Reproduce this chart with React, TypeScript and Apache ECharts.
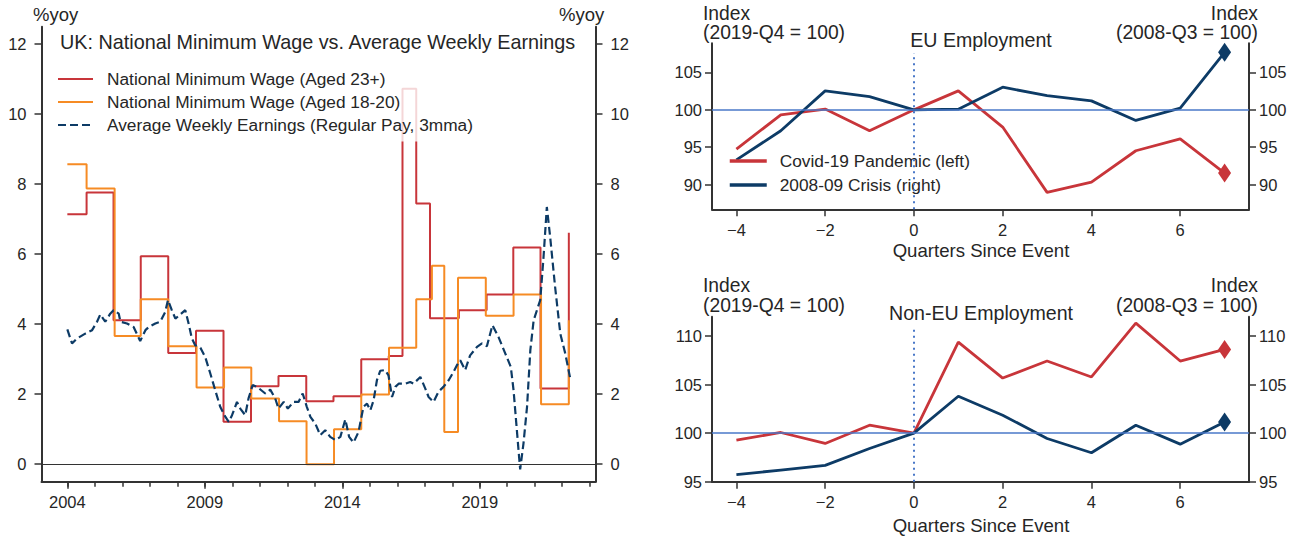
import React, { useEffect, useRef } from 'react';
import * as echarts from 'echarts';

const FONT = "'Liberation Sans', Arial, Helvetica, sans-serif";
const TEXT = '#262626';
const AXIS = '#333333';
const RED = '#C8353A';
const ORANGE = '#F68B24';
const NAVY = '#0D3B66';
const REF = '#4A78C8';

// ---------- Left chart: UK NMW vs AWE (%yoy) ----------
const yearTicks = [2004, 2009, 2014, 2019];
const yearMinorTicks = [2004, 2005, 2006, 2007, 2008, 2009, 2010, 2011, 2012, 2013, 2014, 2015, 2016, 2017, 2018, 2019, 2020, 2021, 2022, 2023];
const pctTicks = [0, 2, 4, 6, 8, 10, 12];

const nmw23Dates = [2004.0, 2004.7, 2005.68, 2006.67, 2007.67, 2008.68, 2009.68, 2010.68, 2011.68, 2012.69, 2013.68, 2014.69, 2015.69, 2016.19, 2016.69, 2017.19, 2018.24, 2019.25, 2020.22, 2021.21, 2022.24];
const nmw23Values = [7.14, 7.76, 4.11, 5.94, 3.18, 3.81, 1.21, 2.23, 2.52, 1.8, 1.94, 3.0, 3.09, 10.73, 7.45, 4.17, 4.4, 4.85, 6.19, 2.16, 6.61];

const nmw1820Dates = [2004.0, 2004.7, 2005.72, 2006.67, 2007.67, 2008.7, 2009.7, 2010.69, 2011.7, 2012.7, 2013.7, 2014.69, 2015.7, 2016.69, 2017.26, 2017.71, 2018.21, 2019.22, 2020.23, 2021.23, 2022.24];
const nmw1820Values = [8.57, 7.88, 3.66, 4.71, 3.37, 2.19, 2.76, 1.88, 1.23, 0.0, 1.0, 1.99, 3.33, 4.71, 5.67, 0.92, 5.33, 4.24, 4.85, 1.71, 4.11];

const aweDates = [
  2004.0, 2004.17, 2004.35, 2004.65, 2004.9, 2005.08, 2005.2, 2005.38, 2005.56, 2005.68, 2005.87, 2005.93,
  2006.17, 2006.41, 2006.65, 2006.84, 2006.96, 2007.2, 2007.38, 2007.56, 2007.66, 2007.8, 2007.93,
  2008.08, 2008.29, 2008.41, 2008.53, 2008.65, 2008.84, 2009.02, 2009.2, 2009.38, 2009.56, 2009.75, 2009.87, 2009.99,
  2010.17, 2010.29, 2010.47, 2010.59, 2010.74, 2010.9, 2011.2, 2011.38, 2011.56, 2011.68, 2011.87,
  2012.02, 2012.23, 2012.41, 2012.56, 2012.71, 2012.84, 2013.02, 2013.2, 2013.38, 2013.56, 2013.75, 2013.93,
  2014.11, 2014.25, 2014.41, 2014.59, 2014.77, 2014.9, 2015.02, 2015.14, 2015.26, 2015.38, 2015.56, 2015.68, 2015.75, 2015.81, 2015.93,
  2016.05, 2016.29, 2016.47, 2016.59, 2016.84, 2017.02, 2017.14, 2017.32, 2017.5, 2017.68, 2017.87,
  2018.05, 2018.17, 2018.29, 2018.47, 2018.65, 2018.9, 2019.08, 2019.26, 2019.46, 2019.68, 2019.93,
  2020.13, 2020.23, 2020.33, 2020.41, 2020.47, 2020.59, 2020.72, 2020.84, 2020.96, 2021.08, 2021.2, 2021.32, 2021.44, 2021.56, 2021.74, 2021.93,
  2022.11, 2022.29,
];
const aweValues = [
  3.85, 3.45, 3.59, 3.73, 3.83, 4.07, 4.28, 4.07, 4.3, 4.4, 4.3, 4.07,
  4.02, 3.92, 3.52, 3.83, 3.92, 4.02, 4.07, 4.35, 4.69, 4.4, 4.16,
  4.26, 4.4, 4.02, 3.59, 3.4, 3.33, 3.05, 2.59, 2.11, 1.64, 1.35, 1.21, 1.4,
  1.78, 1.59, 1.4, 1.88, 2.26, 2.21, 2.02, 2.13, 1.88, 1.59, 1.78,
  1.59, 1.78, 1.78, 2.02, 1.64, 1.35, 1.16, 0.83, 0.97, 0.78, 0.69, 0.78,
  1.28, 0.78, 0.62, 0.92, 1.64, 1.73, 1.54, 1.83, 2.4, 2.67, 2.69, 2.54, 2.21, 1.92, 2.21,
  2.3, 2.3, 2.35, 2.3, 2.49, 2.16, 1.92, 1.78, 2.07, 2.21, 2.4,
  2.64, 2.83, 2.97, 2.69, 3.11, 3.35, 3.45, 3.37, 3.97, 3.64, 3.16,
  2.78, 2.11, 1.16, 0.4, -0.15, 0.59, 1.64, 3.26, 4.11, 4.4, 4.69, 5.92, 7.35, 6.5, 5.07, 3.73,
  3.16, 2.45,
];

// ---------- Right charts: employment indices ----------
const quarters = [-4, -3, -2, -1, 0, 1, 2, 3, 4, 5, 6, 7];
const quarterTicks = [-4, -2, 0, 2, 4, 6];
const euCovid = [94.75, 99.33, 100.1, 97.2, 100.0, 102.54, 97.7, 88.96, 90.34, 94.53, 96.13, 91.54];
const euCrisis = [93.32, 97.2, 102.54, 101.78, 100.0, 100.09, 103.03, 101.91, 101.2, 98.58, 100.22, 107.7];
const nonEuCovid = [99.28, 100.07, 98.94, 100.82, 100.0, 109.38, 105.68, 107.43, 105.79, 111.34, 107.43, 108.63];
const nonEuCrisis = [95.72, 96.2, 96.68, 98.42, 100.0, 103.8, 101.85, 99.45, 97.98, 100.82, 98.87, 101.16];
const euTicks = [90, 95, 100, 105];
const nonEuTicks = [95, 100, 105, 110];

const LEG_NMW23 = 'National Minimum Wage (Aged 23+)';
const LEG_NMW1820 = 'National Minimum Wage (Aged 18-20)';
const LEG_AWE = 'Average Weekly Earnings (Regular Pay, 3mma)';
const LEG_COVID = 'Covid-19 Pandemic (left)';
const LEG_CRISIS = '2008-09 Crisis (right)';

const zip = (xs: number[], ys: number[]) => xs.map((x, i) => [x, ys[i]]);
const minusFmt = (v: number) => (v < 0 ? '\u2212' + Math.abs(v) : String(v));

function xAx(gridIndex: number, min: number, max: number, ticks: number[], opts: any = {}) {
  return {
    type: 'value', gridIndex, min, max, position: 'bottom',
    splitLine: { show: false },
    axisLine: { show: true, onZero: false, lineStyle: { color: AXIS, width: 2 } },
    axisTick: { show: true, customValues: ticks, length: 7, lineStyle: { color: AXIS, width: 1.5 } },
    axisLabel: { customValues: ticks, margin: 12, fontSize: 16.5, color: TEXT, fontFamily: FONT, formatter: minusFmt },
    ...opts,
  };
}

function yAx(gridIndex: number, position: string, min: number, max: number, ticks: number[], margin: number) {
  return {
    type: 'value', gridIndex, position, min, max,
    splitLine: { show: false },
    axisLine: { show: true, onZero: false, lineStyle: { color: AXIS, width: 2 } },
    axisTick: { show: true, customValues: ticks, length: 7, lineStyle: { color: AXIS, width: 1.5 } },
    axisLabel: { customValues: ticks, margin, fontSize: 16.5, color: TEXT, fontFamily: FONT },
  };
}

function txt(text: string, x: number, y: number, size: number, align = 'left') {
  return {
    type: 'text', x, y, silent: true,
    style: { text, fontSize: size, fontFamily: FONT, fill: TEXT, align, verticalAlign: 'middle' },
  };
}

const App: React.FC = () => {
  const ref = useRef<HTMLDivElement>(null);
  useEffect(() => {
    if (!ref.current) return;
    const chart = echarts.init(ref.current, undefined, { renderer: 'svg' });
    const refLines = (ymin: number, ytop: number) => ({
      silent: true, symbol: 'none', label: { show: false },
      data: [
        { yAxis: 100, lineStyle: { color: REF, width: 1.5, type: 'solid' } },
        [
          { coord: [0, ymin], lineStyle: { color: REF, width: 2, type: [2, 4] } },
          { coord: [0, ytop] },
        ],
      ],
    });
    const option: any = {
      animation: false,
      backgroundColor: '#ffffff',
      textStyle: { fontFamily: FONT },
      grid: [
        { left: 41.5, top: 26.7, width: 554, height: 455 },
        { left: 712, top: 43.3, width: 537, height: 166 },
        { left: 712, top: 316.7, width: 537, height: 165 },
      ],
      xAxis: [
        xAx(0, 2003.06, 2023.21, yearTicks, {
          axisLabel: { customValues: yearTicks, margin: 12, fontSize: 16.5, color: TEXT, fontFamily: FONT, formatter: (v: number) => String(v) },
        }),
        xAx(0, 2003.06, 2023.21, yearMinorTicks, {
          axisLine: { show: false, onZero: false },
          axisTick: { show: true, customValues: yearMinorTicks, length: 5, lineStyle: { color: AXIS, width: 1.5 } },
          axisLabel: { show: false },
        }),
        xAx(1, -4.55, 7.55, quarterTicks),
        xAx(2, -4.55, 7.55, quarterTicks),
      ],
      yAxis: [
        yAx(0, 'left', -0.5, 12.5, pctTicks, 15),
        yAx(0, 'right', -0.5, 12.5, pctTicks, 15),
        yAx(1, 'left', 86.7, 108.9, euTicks, 10),
        yAx(1, 'right', 86.7, 108.9, euTicks, 10),
        yAx(2, 'left', 95, 112, nonEuTicks, 10),
        yAx(2, 'right', 95, 112, nonEuTicks, 10),
      ],
      legend: [
        {
          data: [LEG_NMW23, LEG_NMW1820, LEG_AWE],
          orient: 'vertical', left: 47, top: 62.5,
          padding: [8, 12, 8, 10], itemGap: 6, itemWidth: 35, itemHeight: 14,
          backgroundColor: 'rgba(255,255,255,0.8)',
          selectedMode: false,
          itemStyle: { opacity: 0, borderWidth: 0 },
          textStyle: { fontSize: 17.3, color: TEXT, fontFamily: FONT, lineHeight: 17, padding: [0, 0, 0, 9] },
        },
        {
          data: [LEG_COVID, LEG_CRISIS],
          orient: 'vertical', left: 728, top: 152.5,
          padding: 0, itemGap: 7, itemWidth: 37, itemHeight: 14,
          selectedMode: false,
          itemStyle: { opacity: 0, borderWidth: 0 },
          lineStyle: { width: 3.5 },
          textStyle: { fontSize: 17.3, color: TEXT, fontFamily: FONT, lineHeight: 17, padding: [0, 0, 0, 8] },
        },
      ],
      graphic: [
        txt('%yoy', 33, 14, 18.5),
        txt('%yoy', 559, 14, 18.5),
        txt('UK: National Minimum Wage vs. Average Weekly Earnings', 60, 42, 19.8),
        txt('Index', 703, 13.5, 19.3),
        txt('(2019-Q4 = 100)', 703, 32.5, 19.3),
        txt('Index', 1258, 13.5, 19.3, 'right'),
        txt('(2008-Q3 = 100)', 1258, 32.5, 19.3, 'right'),
        txt('EU Employment', 981, 40, 19.6, 'center'),
        txt('Quarters Since Event', 981, 250, 18.6, 'center'),
        txt('Index', 703, 285.7, 19.3),
        txt('(2019-Q4 = 100)', 703, 305, 19.3),
        txt('Index', 1258, 285.7, 19.3, 'right'),
        txt('(2008-Q3 = 100)', 1258, 305, 19.3, 'right'),
        txt('Non-EU Employment', 981, 313, 19.6, 'center'),
        txt('Quarters Since Event', 981, 525, 18.6, 'center'),
      ],
      series: [
        {
          name: LEG_NMW23, type: 'line', step: 'end', xAxisIndex: 0, yAxisIndex: 0,
          data: zip(nmw23Dates, nmw23Values), symbol: 'none',
          lineStyle: { color: RED, width: 2 }, itemStyle: { color: RED },
          markLine: {
            silent: true, symbol: 'none', label: { show: false },
            lineStyle: { color: AXIS, width: 1, type: 'solid' },
            data: [{ yAxis: 0 }],
          },
        },
        {
          name: LEG_NMW1820, type: 'line', step: 'end', xAxisIndex: 0, yAxisIndex: 0,
          data: zip(nmw1820Dates, nmw1820Values), symbol: 'none',
          lineStyle: { color: ORANGE, width: 2 }, itemStyle: { color: ORANGE },
        },
        {
          name: LEG_AWE, type: 'line', xAxisIndex: 0, yAxisIndex: 0,
          data: zip(aweDates, aweValues), symbol: 'none',
          lineStyle: { color: NAVY, width: 2.2, type: [8, 4] }, itemStyle: { color: NAVY },
        },
        // EU employment
        {
          name: LEG_COVID, type: 'line', xAxisIndex: 2, yAxisIndex: 2,
          data: zip(quarters, euCovid), symbol: 'none',
          lineStyle: { color: RED, width: 2.8 }, itemStyle: { color: RED },
          markLine: refLines(86.7, 107.6), z: 3,
        },
        {
          name: LEG_CRISIS, type: 'line', xAxisIndex: 2, yAxisIndex: 3,
          data: zip(quarters, euCrisis), symbol: 'none',
          lineStyle: { color: NAVY, width: 2.8 }, itemStyle: { color: NAVY }, z: 3,
        },
        {
          name: 'eu-covid-last', type: 'scatter', xAxisIndex: 2, yAxisIndex: 2,
          data: [[quarters[quarters.length - 1], euCovid[euCovid.length - 1]]],
          symbol: 'diamond', symbolSize: [13, 19], itemStyle: { color: RED, opacity: 1 }, z: 4,
        },
        {
          name: 'eu-crisis-last', type: 'scatter', xAxisIndex: 2, yAxisIndex: 3,
          data: [[quarters[quarters.length - 1], euCrisis[euCrisis.length - 1]]],
          symbol: 'diamond', symbolSize: [13, 19], itemStyle: { color: NAVY, opacity: 1 }, z: 4,
        },
        // Non-EU employment
        {
          name: LEG_COVID, type: 'line', xAxisIndex: 3, yAxisIndex: 4,
          data: zip(quarters, nonEuCovid), symbol: 'none',
          lineStyle: { color: RED, width: 2.8 }, itemStyle: { color: RED },
          markLine: refLines(95, 110.9), z: 3,
        },
        {
          name: LEG_CRISIS, type: 'line', xAxisIndex: 3, yAxisIndex: 5,
          data: zip(quarters, nonEuCrisis), symbol: 'none',
          lineStyle: { color: NAVY, width: 2.8 }, itemStyle: { color: NAVY }, z: 3,
        },
        {
          name: 'noneu-covid-last', type: 'scatter', xAxisIndex: 3, yAxisIndex: 4,
          data: [[quarters[quarters.length - 1], nonEuCovid[nonEuCovid.length - 1]]],
          symbol: 'diamond', symbolSize: [13, 19], itemStyle: { color: RED, opacity: 1 }, z: 4,
        },
        {
          name: 'noneu-crisis-last', type: 'scatter', xAxisIndex: 3, yAxisIndex: 5,
          data: [[quarters[quarters.length - 1], nonEuCrisis[nonEuCrisis.length - 1]]],
          symbol: 'diamond', symbolSize: [13, 19], itemStyle: { color: NAVY, opacity: 1 }, z: 4,
        },
      ],
    };
    chart.setOption(option);
    return () => chart.dispose();
  }, []);
  return (
    <div
      ref={ref}
      style={{ position: 'absolute', left: 0, top: 0, width: 1301, height: 538, background: '#fff' }}
    />
  );
};

export default App;
